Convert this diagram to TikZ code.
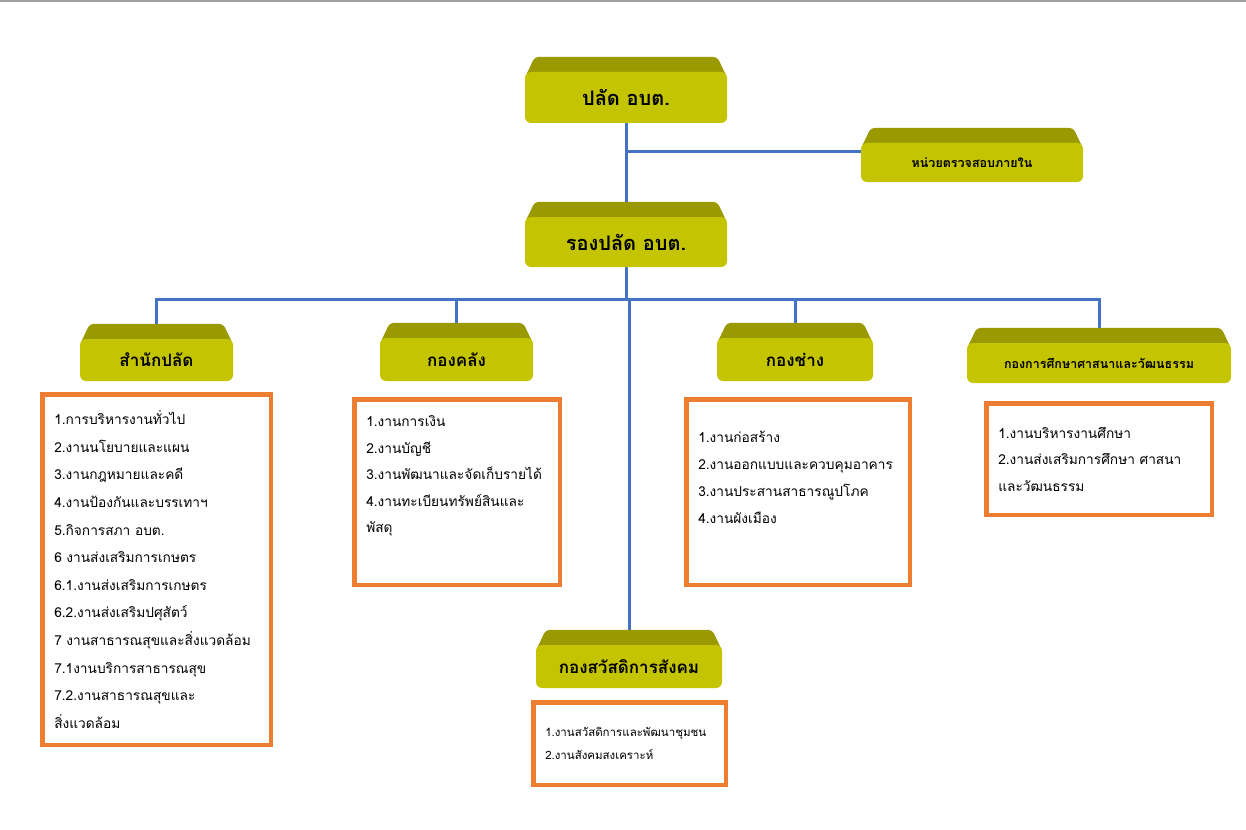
\documentclass[tikz,border=0pt]{standalone}
\usepackage{fontspec}
\newfontfamily\thaifont[Script=Thai]{Loma}
\usetikzlibrary{backgrounds}
\definecolor{unitface}{HTML}{C4C400}
\definecolor{unittop}{HTML}{9B9900}
\definecolor{orgline}{HTML}{4472C4}
\definecolor{jobline}{HTML}{ED7D31}
\definecolor{topgray}{HTML}{A0A0A0}
\tikzset{
  unit/.style={fill=unitface, rounded corners=6pt, inner sep=0pt,
    font=\thaifont\bfseries\fontsize{#1}{#1}\selectfont},
  jobbox/.style 2 args={draw=jobline, line width=4.5pt, fill=white,
    inner xsep=12pt, inner ysep=0pt, font=\thaifont\fontsize{#1}{#2}\selectfont},
  link/.style={draw=orgline, line width=3pt},
}
\newcommand{\joblist}[3]{\parbox[c][#2][c]{#1}{\raggedright #3}}

\begin{document}
\begin{tikzpicture}[x=1pt, y=-1pt]
\useasboundingbox (0,0) rectangle (1246,829);
\draw[topgray, line width=2.5pt] (0,1) -- (1246,1);

% units
\node[unit=20, minimum width=202pt, minimum height=51pt] (palad) at (626,97.5) {ปลัด อบต.};
\node[unit=12.5, minimum width=222pt, minimum height=39pt] (audit) at (972,162.5) {หน่วยตรวจสอบภายใน};
\node[unit=20, minimum width=202pt, minimum height=50pt] (rong) at (626,242) {รองปลัด อบต.};
\node[unit=17, minimum width=153pt, minimum height=42pt] (saml) at (156.5,360) {สำนักปลัด};
\node[unit=17, minimum width=153pt, minimum height=43pt] (khlang) at (456.5,359.5) {กองคลัง};
\node[unit=17, minimum width=156pt, minimum height=43pt] (chang) at (795,359.5) {กองช่าง};
\node[unit=12.5, minimum width=264pt, minimum height=40pt] (edu) at (1099,363) {กองการศึกษาศาสนาและวัฒนธรรม};
\node[unit=17, minimum width=186pt, minimum height=43pt] (welf) at (629,666.5) {กองสวัสดิการสังคม};

% work lists
\node[jobbox={13.7}{27.6}] (saml list) at (156.5,569.5) {\joblist{204.5pt}{350.5pt}{%
  1.การบริหารงานทั่วไป\\
  2.งานนโยบายและแผน\\
  3.งานกฎหมายและคดี\\
  4.งานป้องกันและบรรเทาฯ\\
  5.กิจการสภา~อบต.\\
  6~งานส่งเสริมการเกษตร\\
  6.1.งานส่งเสริมการเกษตร\\
  6.2.งานส่งเสริมปศุสัตว์\\
  7~งานสาธารณสุขและสิ่งแวดล้อม\\
  7.1งานบริการสาธารณสุข\\
  7.2.งานสาธารณสุขและ\\
  สิ่งแวดล้อม}};
\node[jobbox={13.7}{26.5}] (khlang list) at (457,492) {\joblist{181.5pt}{185.5pt}{%
  1.งานการเงิน\\
  2.งานบัญชี\\
  3.งานพัฒนาและจัดเก็บรายได้\\
  4.งานทะเบียนทรัพย์สินและ\\
  พัสดุ\par\vspace*{32pt}}};
\node[jobbox={13.7}{27}] (chang list) at (798,492) {\joblist{199.5pt}{185.5pt}{%
  1.งานก่อสร้าง\\
  2.งานออกแบบและควบคุมอาคาร\\
  3.งานประสานสาธารณูปโภค\\
  4.งานผังเมือง\par\vspace*{30pt}}};
\node[jobbox={13.7}{26.5}] (edu list) at (1099,459) {\joblist{201.5pt}{111.5pt}{%
  1.งานบริหารงานศึกษา\\
  2.งานส่งเสริมการศึกษา~ศาสนา\\
  และวัฒนธรรม}};
\node[jobbox={11.5}{23}] (welf list) at (629.5,743.5) {\joblist{168.5pt}{82.5pt}{%
  1.งานสวัสดิการและพัฒนาชุมชน\\
  2.งานสังคมสงเคราะห์}};

\begin{scope}[on background layer]
% connectors
\coordinate (tap) at (626,152);
\coordinate (bus) at (626,299);
\draw[link] (palad) -- (rong);
\draw[link] (tap) -- (tap -| audit.west);
\draw[link] (rong) -- (bus);
\draw[link] (saml.north) |- (bus -| edu) -- (edu.north);
\foreach \u in {khlang, chang, welf}
  \draw[link] (bus -| \u) -- (\u.north);
% top faces
\foreach \u in {palad, audit, rong, saml, khlang, chang, edu, welf}
  \fill[unittop, rounded corners=4pt] ([yshift=-6pt]\u.north west)
    -- ([xshift=10pt, yshift=15pt]\u.north west)
    -- ([xshift=-10pt, yshift=15pt]\u.north east)
    -- ([yshift=-6pt]\u.north east) -- cycle;
\end{scope}
\end{tikzpicture}
\end{document}
